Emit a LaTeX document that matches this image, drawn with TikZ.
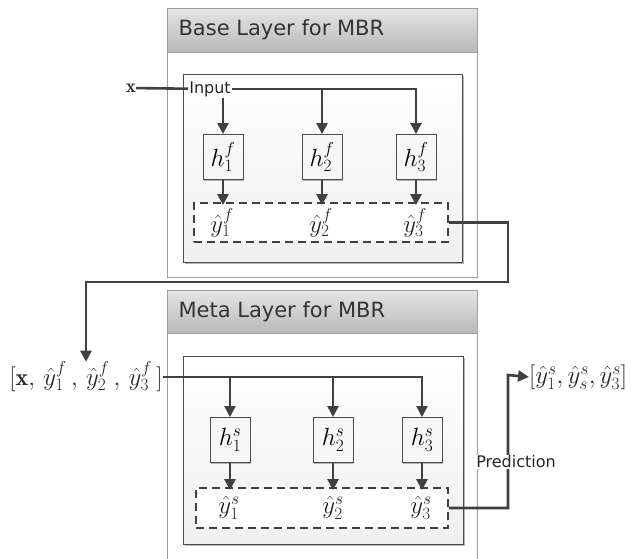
\documentclass[tikz,border=0pt]{standalone}
\usepackage{fontspec}
\setsansfont{DejaVu Sans}
\usetikzlibrary{arrows.meta,shadows}

\begin{document}
\begin{tikzpicture}[x=1pt,y=-1pt,
  node font=\sffamily,
  layer/.style={draw=gray!75, line width=0.8pt, fill=white},
  header/.style={draw=gray!75, line width=0.8pt, top color=gray!20, bottom color=gray!55},
  title/.style={anchor=west, text=black!80, font=\sffamily\fontsize{21}{21}\selectfont},
  panel/.style={draw=black!70, line width=1pt, top color=white, bottom color=gray!12,
    drop shadow={shadow xshift=1.5pt, shadow yshift=-1.5pt, fill=gray!70, opacity=0.8}},
  hbox/.style={draw=black!70, line width=1pt, fill=gray!6, minimum width=40pt,
    minimum height=45pt, inner sep=0pt, font=\fontsize{25}{25}\selectfont,
    drop shadow={shadow xshift=1.2pt, shadow yshift=-1.2pt, fill=gray!70, opacity=0.8}},
  ybox/.style={draw=black!75, line width=1.8pt, dash pattern=on 8pt off 5pt,
    fill=white, inner sep=0pt},
  lbl/.style={inner sep=0pt, text=black!85, font=\fontsize{24}{24}\selectfont},
  word/.style={inner sep=1pt, fill=white, text=black!85, font=\sffamily\fontsize{16}{16}\selectfont},
  link/.style={draw=black!75, line width=2.6pt},
  flow/.style={link, -{Triangle[length=11pt,width=11pt]}}
]
  \clip (0,0) rectangle (641,558);

  % base layer
  \draw [layer] (167,8) rectangle (477,277);
  \draw [header] (167,8) rectangle (477,52);
  \node [title] (basetitle) at (175,30) {Base Layer for MBR};
  \draw [panel] (183,74) rectangle (462,262);

  \node [lbl, font=\fontsize{19}{19}\selectfont] (x) at (131,88) {$\mathbf{x}$};
  \node [word, fill=none] (input) at (210,89) {Input};
  \node [hbox] (hf1) at (223,157) {$h^{f}_{1}$};
  \node [hbox] (hf2) at (322,157) {$h^{f}_{2}$};
  \node [hbox] (hf3) at (416,157) {$h^{f}_{3}$};
  \node [ybox, minimum width=254pt, minimum height=39pt] (yf) at (321,222.5) {};
  \node [lbl] (yf1) at (222,223) {$\hat{y}^{f}_{1}$};
  \node [lbl] (yf2) at (321,223) {$\hat{y}^{f}_{2}$};
  \node [lbl] (yf3) at (415,223) {$\hat{y}^{f}_{3}$};

  \draw [link] (x) -- (input);
  \draw [flow] (input.east) -| (hf3.north);
  \draw [flow] (hf2.north |- input) -- (hf2.north);
  \draw [flow] (hf1.north |- input.south) -- (hf1.north);
  \foreach \i in {1,2,3}
    \draw [flow] (hf\i.south) -- ([yshift=-3pt]hf\i.south |- yf.north);

  % meta layer
  \draw [layer] (167,290) rectangle (477,600);
  \draw [header] (167,290) rectangle (477,333);
  \node [title] (metatitle) at (175,312) {Meta Layer for MBR};
  \draw [panel] (183,356) rectangle (463,544);

  \node [lbl] (stack) at (86,377)
    {$[\mathbf{x},\,\hat{y}^{f}_{1}\,,\,\hat{y}^{f}_{2}\,,\,\hat{y}^{f}_{3}\,]$};
  \node [hbox] (hs1) at (230,440) {$h^{s}_{1}$};
  \node [hbox] (hs2) at (333,440) {$h^{s}_{2}$};
  \node [hbox] (hs3) at (422,440) {$h^{s}_{3}$};
  \node [ybox, minimum width=252pt, minimum height=40pt] (ys) at (322,508) {};
  \node [lbl] (ys1) at (229,508) {$\hat{y}^{s}_{1}$};
  \node [lbl] (ys2) at (333,508) {$\hat{y}^{s}_{2}$};
  \node [lbl] (ys3) at (421,508) {$\hat{y}^{s}_{3}$};
  \node [lbl, anchor=west] (out) at (529,377)
    {$[\hat{y}^{s}_{1},\hat{y}^{s}_{s},\hat{y}^{s}_{3}]$};

  \draw [flow] (stack.east) -| (hs3.north);
  \draw [flow] (hs1.north |- stack.east) -- (hs1.north);
  \draw [flow] (hs2.north |- stack.east) -- (hs2.north);
  \foreach \i in {1,2,3}
    \draw [flow] (hs\i.south) -- ([yshift=-3pt]hs\i.south |- ys.north);

  % base output to meta input
  \coordinate (turn) at (508,282);
  \draw [flow] (yf.east) -| (turn) -| (stack.north);

  % prediction
  \coordinate (up) at (508,375);
  \draw [flow] (ys.east) -| (up) -- (out.west);
  \node [word] (pred) at (516,462) {Prediction};
\end{tikzpicture}
\end{document}
